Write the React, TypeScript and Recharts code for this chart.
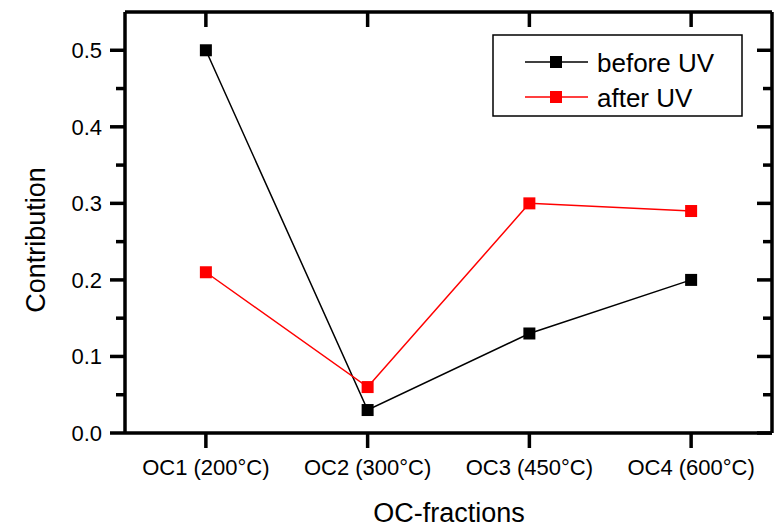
import React from "react";
import { LineChart, Line, XAxis, YAxis } from "recharts";

const categories = ["OC1 (200°C)", "OC2 (300°C)", "OC3 (450°C)", "OC4 (600°C)"];
const beforeUV = [0.5, 0.03, 0.13, 0.2];
const afterUV = [0.21, 0.06, 0.3, 0.29];
const yTicks = [0, 0.05, 0.1, 0.15, 0.2, 0.25, 0.3, 0.35, 0.4, 0.45, 0.5];
const yMajor = [0, 0.1, 0.2, 0.3, 0.4, 0.5];
const xTicks = [1, 2, 3, 4];

const FONT = "'Liberation Sans', Arial, sans-serif";
const MAJOR = 15;
const MINOR = 9;
const AXIS_W = 3.5;

const data = categories.map((c, i) => ({
  x: i + 1,
  name: c,
  before: beforeUV[i],
  after: afterUV[i],
}));

const isMajor = (v: number) => yMajor.some((m) => Math.abs(m - v) < 1e-9);

// ticks are drawn by hand so that majors and minors get different lengths
const LeftTick = (props: any) => {
  const { x, y, payload } = props;
  const major = isMajor(payload.value);
  return (
    <g>
      <line x1={x - (major ? MAJOR : MINOR)} x2={x} y1={y} y2={y} stroke="#000" strokeWidth={AXIS_W} />
      {major && (
        <text x={x - 23} y={y + 8} textAnchor="end" fontSize={22} fontFamily={FONT} fill="#000">
          {payload.value.toFixed(1)}
        </text>
      )}
    </g>
  );
};

const RightTick = (props: any) => {
  const { x, y, payload } = props;
  const major = isMajor(payload.value);
  return <line x1={x} x2={x - (major ? MAJOR : MINOR)} y1={y} y2={y} stroke="#000" strokeWidth={AXIS_W} />;
};

const BottomTick = (props: any) => {
  const { x, y, payload } = props;
  return (
    <g>
      <line x1={x} x2={x} y1={y} y2={y + MAJOR} stroke="#000" strokeWidth={AXIS_W} />
      <text x={x} y={y + 42} textAnchor="middle" fontSize={22} fontFamily={FONT} fill="#000">
        {categories[payload.value - 1]}
      </text>
    </g>
  );
};

const TopTick = (props: any) => {
  const { x, y } = props;
  return <line x1={x} x2={x} y1={y} y2={y + MAJOR} stroke="#000" strokeWidth={AXIS_W} />;
};

const squareDot = (color: string) => (props: any) => {
  const { cx, cy, index } = props;
  return <rect key={`${color}-${index}`} x={cx - 6} y={cy - 6} width={12} height={12} fill={color} />;
};

function LegendBox() {
  const rows = [
    { label: "before UV", color: "#000000" },
    { label: "after UV", color: "#ff0000" },
  ];
  return (
    <svg width={251} height={83} style={{ position: "absolute", left: 492, top: 34 }}>
      <rect x={1} y={1} width={249} height={81} fill="#fff" stroke="#000" strokeWidth={1.5} />
      {rows.map((r, i) => (
        <g key={r.label}>
          <line x1={33} x2={96} y1={28 + i * 35} y2={28 + i * 35} stroke={r.color} strokeWidth={1.5} />
          <rect x={58} y={22 + i * 35} width={12} height={12} fill={r.color} />
          <text x={105} y={38 + i * 35} fontSize={26} fontFamily={FONT} fill="#000">
            {r.label}
          </text>
        </g>
      ))}
    </svg>
  );
}

const axisStroke = { stroke: "#000", strokeWidth: AXIS_W };

export default function App() {
  return (
    <div style={{ position: "absolute", left: 0, top: 0, width: 778, height: 527, background: "#fff" }}>
      <LineChart width={778} height={527} data={data} margin={{ top: 11, right: 5, left: 0, bottom: 0 }}>
        <XAxis
          dataKey="x"
          type="number"
          domain={[0.5, 4.5]}
          ticks={xTicks}
          interval={0}
          allowDataOverflow
          height={94}
          tickSize={0}
          tickMargin={0}
          tickLine={false}
          tick={<BottomTick />}
          axisLine={axisStroke}
          label={() => (
            <text x={449} y={522} textAnchor="middle" fontSize={27} fontFamily={FONT} fill="#000">
              OC-fractions
            </text>
          )}
        />
        <XAxis
          xAxisId="top"
          orientation="top"
          dataKey="x"
          type="number"
          domain={[0.5, 4.5]}
          ticks={xTicks}
          interval={0}
          allowDataOverflow
          height={1}
          tickSize={0}
          tickMargin={0}
          tickLine={false}
          tick={<TopTick />}
          axisLine={axisStroke}
        />
        <YAxis
          type="number"
          domain={[0, 0.55]}
          ticks={yTicks}
          interval={0}
          allowDataOverflow
          width={125}
          tickSize={0}
          tickMargin={0}
          tickLine={false}
          tick={<LeftTick />}
          axisLine={axisStroke}
          label={() => (
            <text
              x={45}
              y={240}
              transform="rotate(-90 45 240)"
              textAnchor="middle"
              fontSize={27}
              fontFamily={FONT}
              fill="#000"
            >
              Contribution
            </text>
          )}
        />
        <YAxis
          yAxisId="right"
          orientation="right"
          type="number"
          domain={[0, 0.55]}
          ticks={yTicks}
          interval={0}
          allowDataOverflow
          width={1}
          tickSize={0}
          tickMargin={0}
          tickLine={false}
          tick={<RightTick />}
          axisLine={axisStroke}
        />
        <Line
          dataKey="before"
          type="linear"
          stroke="#000000"
          strokeWidth={1.5}
          dot={squareDot("#000000")}
          activeDot={false}
          isAnimationActive={false}
        />
        <Line
          dataKey="after"
          type="linear"
          stroke="#ff0000"
          strokeWidth={1.5}
          dot={squareDot("#ff0000")}
          activeDot={false}
          isAnimationActive={false}
        />
      </LineChart>
      <LegendBox />
    </div>
  );
}
